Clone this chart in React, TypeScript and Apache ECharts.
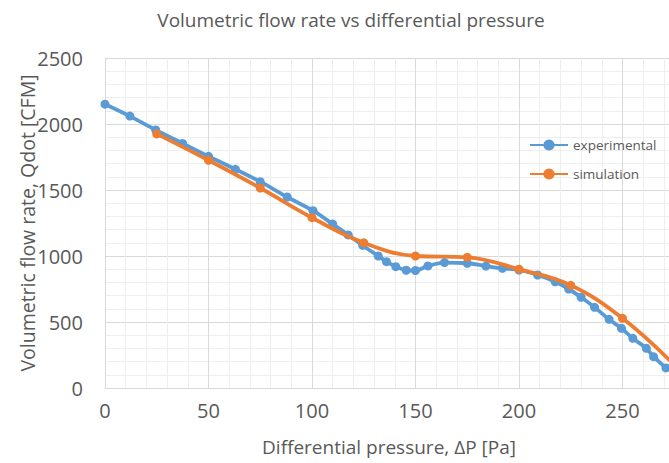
import React, { useEffect, useRef } from "react";
import * as echarts from "echarts";

const TITLE = "Volumetric flow rate vs differential pressure";
const X_NAME = "Differential pressure, ΔP [Pa]";
const Y_NAME = "Volumetric flow rate, Qdot [CFM]";
const SERIES_NAMES = ["experimental", "simulation"];

const expPressure = [0, 12, 24.5, 37.5, 50, 63, 75, 88, 100.5, 110, 117.5, 124.5, 132, 136, 140.5, 145.5, 150, 156, 164, 175, 184, 192, 200, 209, 217.5, 224, 230, 236.5, 243.5, 249.5, 255, 261.5, 265, 271];
const expFlow = [2150, 2060, 1955, 1853, 1755, 1657, 1563, 1447, 1343, 1242, 1160, 1080, 1000, 957, 919, 892, 890, 925, 950, 945, 924, 907, 894, 856, 805, 750, 687, 611, 520, 452, 376, 301, 237, 152];
const simPressure = [25, 50, 75, 100, 125, 150, 175, 200, 225, 250, 275];
const simFlow = [1925, 1725, 1515, 1290, 1100, 1000, 990, 900, 778, 528, 175];

const X_MIN = 0;
const X_MAX = 300;
const X_STEP = 50;
const Y_MIN = 0;
const Y_MAX = 2500;
const Y_STEP = 500;

const FONT = "'Open Sans', 'Noto Sans', sans-serif";
const TEXT = "#595959";
const BLUE = "#5B9BD5";
const ORANGE = "#ED7D31";

export default function App() {
  const ref = useRef<HTMLDivElement>(null);
  useEffect(() => {
    if (!ref.current) return;
    const chart = echarts.init(ref.current, undefined, { renderer: "svg" });
    const expData = expPressure.map((p, i) => [p, expFlow[i]]);
    const simData = simPressure.map((p, i) => [p, simFlow[i]]);
    chart.setOption({
      animation: false,
      textStyle: { fontFamily: FONT },
      grid: { left: 105, right: 14, top: 58, bottom: 75, containLabel: false },
      xAxis: {
        type: "value",
        min: X_MIN,
        max: X_MAX,
        interval: X_STEP,
        axisLine: { show: true, lineStyle: { color: "#d9d9d9", width: 1 } },
        axisTick: { show: false },
        axisLabel: { color: TEXT, fontSize: 20, margin: 12, showMaxLabel: false, fontFamily: FONT },
        splitLine: { show: true, lineStyle: { color: "#d9d9d9", width: 1 } },
        minorTick: { show: false, splitNumber: 5 },
        minorSplitLine: { show: true, lineStyle: { color: "#eeeeee", width: 1 } },
      },
      yAxis: {
        type: "value",
        min: Y_MIN,
        max: Y_MAX,
        interval: Y_STEP,
        axisLine: { show: true, lineStyle: { color: "#d9d9d9", width: 1 } },
        axisTick: { show: false },
        axisLabel: {
          color: TEXT,
          fontSize: 20,
          margin: 22,
          fontFamily: FONT,
          formatter: (v: number) => String(v),
        },
        splitLine: { show: true, lineStyle: { color: "#d9d9d9", width: 1 } },
        minorTick: { show: false, splitNumber: 5 },
        minorSplitLine: { show: true, lineStyle: { color: "#eeeeee", width: 1 } },
      },
      legend: {
        orient: "vertical",
        left: 524,
        top: 133,
        itemWidth: 38,
        itemHeight: 14,
        itemGap: 15,
        textStyle: { color: TEXT, fontSize: 13.5, fontFamily: FONT },
        data: SERIES_NAMES,
      },
      graphic: [
        {
          type: "text",
          x: 351,
          y: 20,
          style: { text: TITLE, fill: TEXT, font: `19px ${FONT}`, textAlign: "center", textVerticalAlign: "middle" },
        },
        {
          type: "text",
          x: 389,
          y: 447,
          style: { text: X_NAME, fill: TEXT, font: `19px ${FONT}`, textAlign: "center", textVerticalAlign: "middle" },
        },
        {
          type: "text",
          x: 27,
          y: 223,
          rotation: Math.PI / 2,
          style: { text: Y_NAME, fill: TEXT, font: `19.5px ${FONT}`, textAlign: "center", textVerticalAlign: "middle" },
        },
      ],
      series: [
        {
          name: SERIES_NAMES[0],
          type: "line",
          data: expData,
          smooth: 0.3,
          symbol: "circle",
          symbolSize: 9,
          itemStyle: { color: BLUE },
          lineStyle: { color: BLUE, width: 3.8 },
          clip: true,
          z: 2,
        },
        {
          name: SERIES_NAMES[1],
          type: "line",
          data: simData,
          smooth: 0.4,
          symbol: "circle",
          symbolSize: 9,
          itemStyle: { color: ORANGE },
          lineStyle: { color: ORANGE, width: 3.8 },
          clip: true,
          z: 3,
        },
      ],
    });
    return () => chart.dispose();
  }, []);
  return (
    <div
      style={{ position: "fixed", left: 0, top: 0, width: 669, height: 463, overflow: "hidden", background: "#fff" }}
    >
      <div ref={ref} style={{ width: 740, height: 463 }} />
    </div>
  );
}
